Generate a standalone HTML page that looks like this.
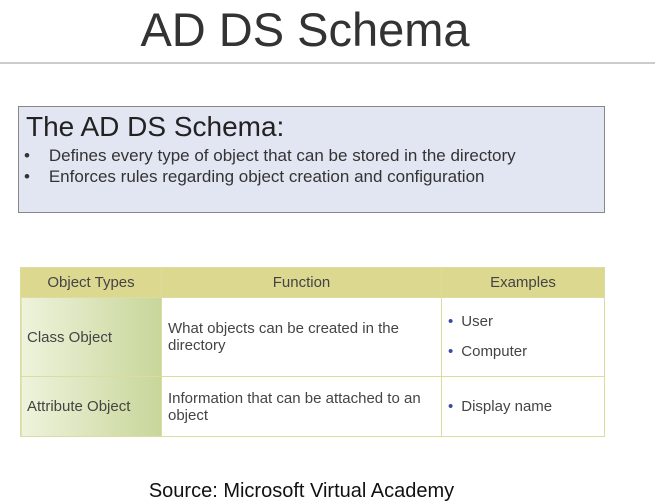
<!DOCTYPE html>
<html><head><style>
body{margin:0;width:655px;height:504px;background:#fff;position:relative;overflow:hidden;font-family:"Liberation Sans",sans-serif;color:#333}
.a{position:absolute;white-space:nowrap}
table{position:absolute;left:20px;top:267px;width:585px;border-collapse:collapse;font-size:15px;color:#444}
td{border:1px solid #dcdca0;padding:0 6px;vertical-align:middle}
.h td{background:#dcd890;height:29px;text-align:center;font-size:15px}
.c1{background:linear-gradient(90deg,#eef3dc,#c8d69a)}
.dot{color:#3a4aa0;margin-right:8px}
</style></head><body>
<div class="a" style="left:0;top:2px;width:610px;text-align:center;font-size:47px;color:#333;line-height:56px">AD DS Schema</div>
<div class="a" style="left:0;top:62px;width:655px;height:2px;background:#ccc"></div>
<div class="a" style="left:18px;top:106px;width:585px;height:105px;background:#e1e6f2;border:1px solid #888"></div>
<div class="a" style="left:26px;top:111px;font-size:28px;color:#222">The AD DS Schema:</div>
<div class="a" style="left:24px;top:145px;font-size:17px;line-height:21px;color:#333">•&nbsp;&nbsp;&nbsp;&nbsp;Defines every type of object that can be stored in the directory<br>•&nbsp;&nbsp;&nbsp;&nbsp;Enforces rules regarding object creation and configuration</div>
<table>
<tr class="h"><td style="width:128px">Object Types</td><td style="width:267px">Function</td><td>Examples</td></tr>
<tr style="height:79px"><td class="c1">Class Object</td><td>What objects can be created in the<br>directory</td><td style="line-height:30px"><span class="dot">•</span>User<br><span class="dot">•</span>Computer</td></tr>
<tr style="height:60px"><td class="c1">Attribute Object</td><td>Information that can be attached to an<br>object</td><td><span class="dot">•</span>Display name</td></tr>
</table>
<div class="a" style="left:0;top:480px;width:603px;text-align:center;font-size:20px;color:#111">Source: Microsoft Virtual Academy</div>
</body></html>
